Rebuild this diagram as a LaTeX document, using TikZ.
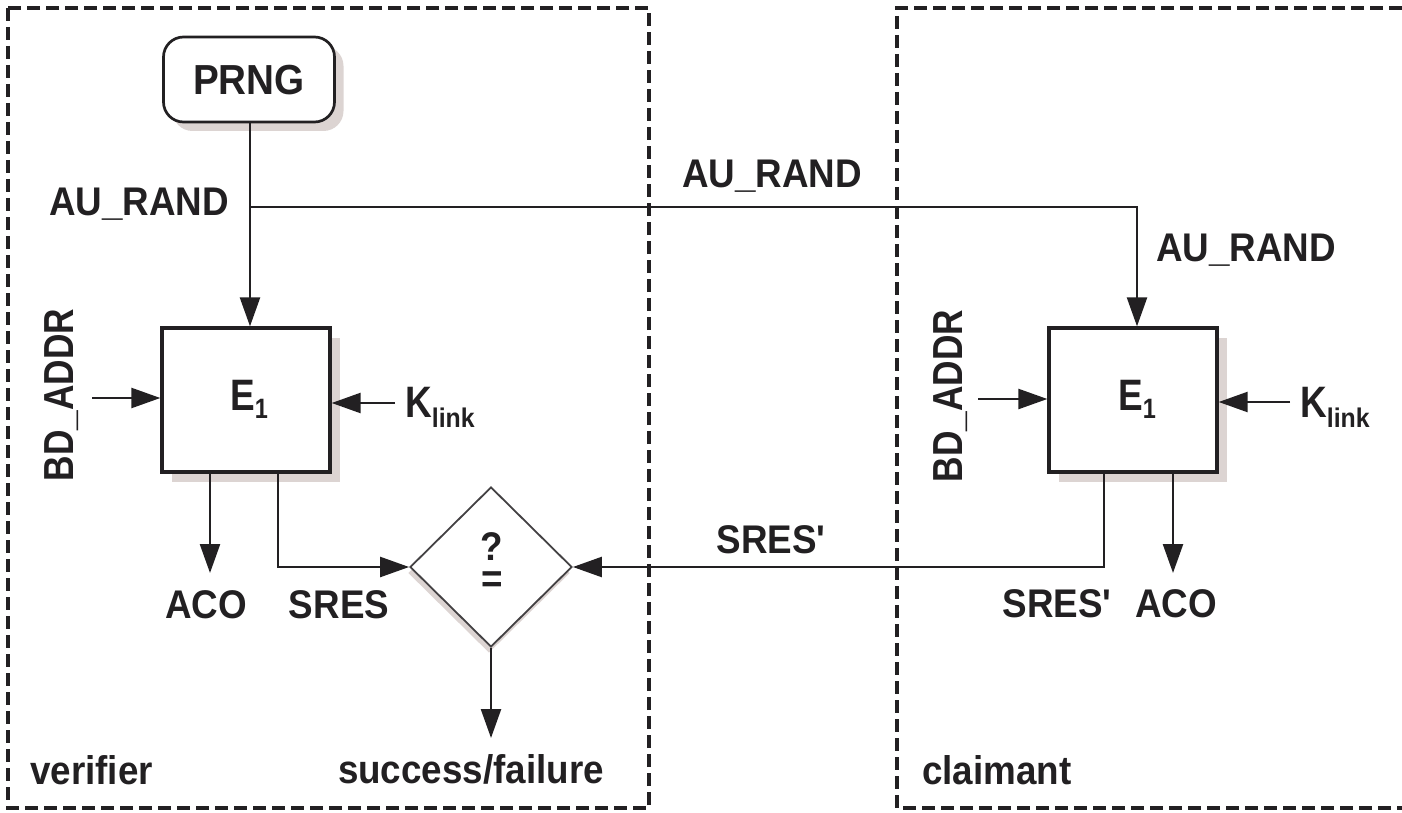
\documentclass[tikz,border=0pt]{standalone}
\usepackage{fontspec}
\setmainfont{Liberation Sans}
\newfontfamily\lblfont{Liberation Sans}[FakeStretch=0.92]
\newfontfamily\narfont{Liberation Sans}[FakeStretch=0.84]
\usetikzlibrary{arrows.meta,shapes.geometric,shadows}
\definecolor{ink}{RGB}{34,32,34}
\definecolor{shade}{RGB}{220,212,210}
\begin{document}
\begin{tikzpicture}[x=1pt,y=-1pt,
  lbl/.style={text=ink,inner sep=0pt,anchor=base,
    font=\lblfont\bfseries\fontsize{40}{44}\selectfont},
  big/.style={text=ink,inner sep=0pt,anchor=base,
    font=\narfont\bfseries\fontsize{44}{48}\selectfont},
  block/.style={draw=ink,line width=3.3pt,fill=white,
    minimum width=168pt,minimum height=144pt,inner sep=0pt,
    drop shadow={shadow xshift=10pt,shadow yshift=-10pt,fill=shade,opacity=1}},
  source/.style={draw=ink,line width=2.7pt,fill=white,rounded corners=20pt,
    minimum width=171pt,minimum height=85pt,inner sep=0pt,
    drop shadow={shadow xshift=9pt,shadow yshift=-9pt,fill=shade,opacity=1}},
  check/.style={diamond,draw=ink!85,line width=1.8pt,fill=white,
    minimum width=162pt,minimum height=160pt,inner sep=0pt,
    drop shadow={shadow xshift=-2pt,shadow yshift=-6pt,fill=shade,opacity=1}},
  conn/.style={draw=ink,line width=2.4pt},
  arr/.style={conn,-{Triangle[length=29pt,width=20pt]}},
  zone/.style={draw=ink,line width=3.3pt,dash pattern=on 13pt off 6pt}
]
\useasboundingbox (0,0) rectangle (1402,813);

% party frames
\draw[zone] (8,8) rectangle (649,808);
\draw[zone] (1402,8) -- (897,8) -- (897,808) -- (1402,808);

% verifier side
\node[source] (prng) at (249,79.5) {};
\node[lbl,font=\lblfont\bfseries\fontsize{42}{46}\selectfont] (prngt) at (249,95) {PRNG};
\node[block] (e1l) at (246,400) {};
\node[big] (e1lt) at (249,410) {E\raisebox{-8pt}{\fontsize{28}{30}\selectfont 1}};
\node[check] (cmp) at (491,567) {};
\node[lbl,anchor=center,align=center] (cmpt) at (492,563) {?\\[-12pt]=};

% claimant side
\node[block] (e1r) at (1133,400) {};
\node[big] (e1rt) at (1137,410) {E\raisebox{-8pt}{\fontsize{28}{30}\selectfont 1}};

% labels
\node[lbl] (aul) at (139,215) {AU\_RAND};
\node[lbl] (aum) at (772,188) {AU\_RAND};
\node[lbl] (aur) at (1246,261) {AU\_RAND};
\node[big,font=\narfont\bfseries\fontsize{42}{46}\selectfont,rotate=90] (bdl) at (73,395) {BD\_ADDR};
\node[big,font=\narfont\bfseries\fontsize{42}{46}\selectfont,rotate=90] (bdr) at (962,396) {BD\_ADDR};
\node[big,anchor=base west] (kl) at (405,417) {K\raisebox{-10pt}{\lblfont\bfseries\fontsize{27}{30}\selectfont link}};
\node[big,anchor=base west] (kr) at (1300,417) {K\raisebox{-10pt}{\lblfont\bfseries\fontsize{27}{30}\selectfont link}};
\node[lbl] (acol) at (206,618) {ACO};
\node[lbl] (sres) at (339,618) {SRES};
\node[lbl] (sresm) at (771,553) {SRES'};
\node[lbl] (sresr) at (1057,617) {SRES'};
\node[lbl] (acor) at (1176,617) {ACO};
\node[lbl] (res) at (471,783) {success/failure};
\node[lbl,anchor=base west] (ver) at (30,784) {verifier};
\node[lbl,anchor=base west] (cla) at (922,784) {claimant};

% connector end points
\coordinate (split) at (250,207);
\coordinate (bdlin) at (92,398);
\coordinate (klin) at (395,403);
\coordinate (acolout) at (210,573);
\coordinate (bdrin) at (978,399);
\coordinate (krin) at (1290,402);
\coordinate (acorout) at (1173,573);
\coordinate (resout) at (491,738);

% connectors
\draw[arr] (prng.south -| split) -- (split |- e1l.north);
\draw[arr] (split) -| ([xshift=4pt]e1r.north);
\draw[arr] (bdlin) -- (bdlin -| e1l.west);
\draw[arr] (klin) -- (klin -| e1l.east);
\draw[arr] (acolout |- e1l.south) -- (acolout);
\draw[arr] ([xshift=32pt]e1l.south) |- (cmp.west);
\draw[arr] (bdrin) -- (bdrin -| e1r.west);
\draw[arr] (krin) -- (krin -| e1r.east);
\draw[arr] (acorout |- e1r.south) -- (acorout);
\draw[arr] ([xshift=-29pt]e1r.south) |- (cmp.east);
\draw[arr] (cmp.south) -- (resout);
\end{tikzpicture}
\end{document}
